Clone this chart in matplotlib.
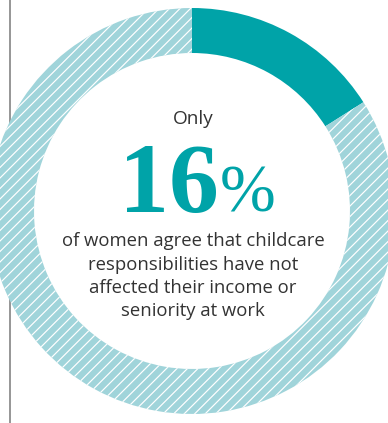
import numpy as np
import matplotlib.pyplot as plt

# share of women, in percent
share = 16
rest = 100 - share
values = [share, rest]
colors = ['#00a3a8', '#a0d4da']

intro = "Only"
body = ["of women agree that childcare",
        "responsibilities have not",
        "affected their income or",
        "seniority at work"]

W, H = 388, 423
DPI = 72

fig = plt.figure(figsize=(W / DPI, H / DPI), dpi=DPI)
ax = fig.add_axes([0, 0, 1, 1])

# vertical rule on the left, behind the ring
ax.plot([10, 10], [0, H], color='#7f7f7f', lw=1.6, zorder=0)

cx, cy = 192, H - 211
wedges, _ = ax.pie(values, colors=colors, startangle=90, counterclock=False,
                   radius=203, center=(cx, cy),
                   wedgeprops=dict(width=45, linewidth=0))
for w in wedges:
    w.set_zorder(2)

# white diagonal stripes over the remaining part, clipped to its wedge
step = 10.5
for c in np.arange(-H, W + H, step):
    ln, = ax.plot([c, c + H + 20], [-10, H + 10], color='white', lw=1.2,
                  zorder=3, solid_capstyle='butt')
    ln.set_clip_path(wedges[1])

ax.set_xlim(0, W)
ax.set_ylim(0, H)
ax.set_aspect('equal')
ax.axis('off')

txt = '#333333'
ax.text(cx + 1, H - 124, intro, ha='center', va='baseline', fontsize=19,
        family='Open Sans', color=txt)
ax.text(219, H - 212, str(share), ha='right', va='baseline', fontsize=100,
        family='Liberation Serif', weight='bold', color=colors[0])
ax.text(220, H - 212, '%', ha='left', va='baseline', fontsize=67,
        family='Liberation Serif', color=colors[0])

for i, line in enumerate(body):
    ax.text(cx + 1, H - 246 - i * 23.5, line, ha='center', va='baseline',
            fontsize=18.5, family='Open Sans', color=txt)

fig.savefig('out.png', dpi=DPI)
